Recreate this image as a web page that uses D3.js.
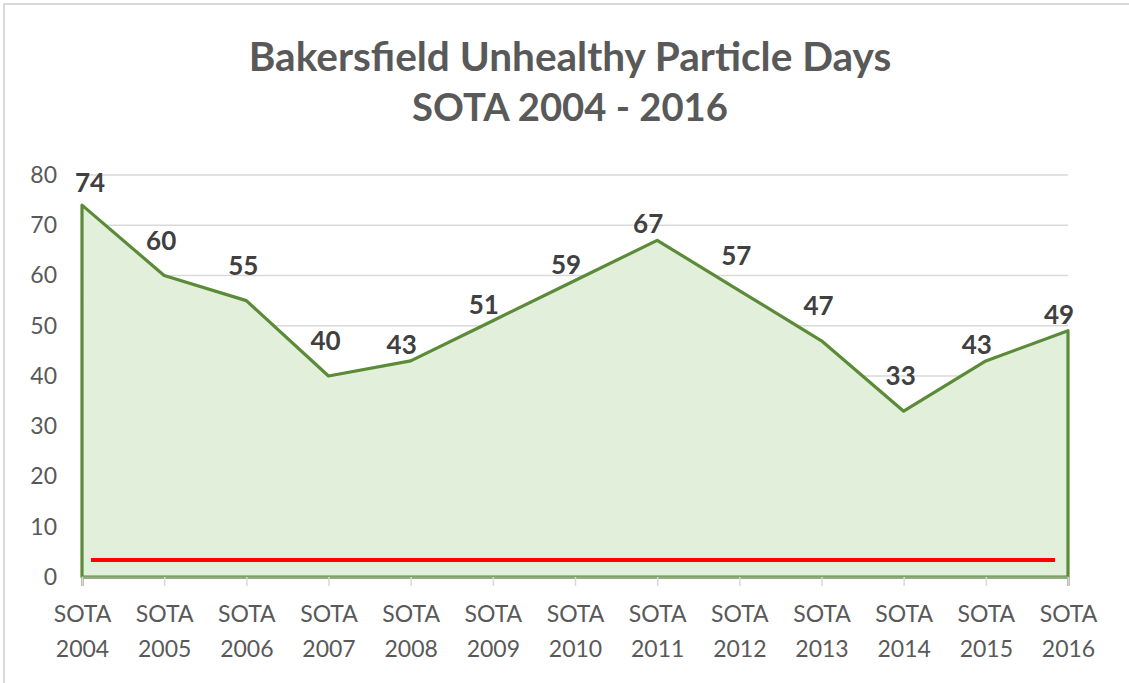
<!DOCTYPE html>
<html>
<head>
<meta charset="utf-8">
<script src="https://cdn.jsdelivr.net/npm/d3@7"></script>
<style>
  body { margin: 0; background: #fff; }
  svg { display: block; font-family: Lato, "Open Sans", sans-serif; }
</style>
</head>
<body>
<svg id="chart" width="1129" height="683"></svg>
<script>
// chart data
const years = ["2004", "2005", "2006", "2007", "2008", "2009", "2010",
               "2011", "2012", "2013", "2014", "2015", "2016"];
const days = [74, 60, 55, 40, 43, 51, 59, 67, 57, 47, 33, 43, 49];
const yTicks = [0, 10, 20, 30, 40, 50, 60, 70, 80];
const redLevel = 3.4;
const titleLines = ["Bakersfield Unhealthy Particle Days", "SOTA 2004 - 2016"];

const svg = d3.select("#chart");

// outer frame of the pasted chart
svg.append("rect")
  .attr("x", 4).attr("y", 4)
  .attr("width", 1140).attr("height", 700)
  .attr("fill", "none").attr("stroke", "#d9d9d9").attr("stroke-width", 2);

const x = d3.scalePoint().domain(years).range([82, 1068]);
const y = d3.scaleLinear().domain([0, 80]).range([577, 175]);

// gridlines
svg.append("g")
  .selectAll("line")
  .data(yTicks.filter(d => d > 0))
  .join("line")
  .attr("x1", x.range()[0]).attr("x2", x.range()[1])
  .attr("y1", d => y(d)).attr("y2", d => y(d))
  .attr("stroke", "#d9d9d9").attr("stroke-width", 1.3);

// y axis labels
const yAxis = svg.append("g")
  .attr("transform", "translate(57,0)")
  .call(d3.axisLeft(y).tickValues(yTicks).tickSize(0).tickPadding(0));
yAxis.select(".domain").remove();
yAxis.selectAll("text")
  .attr("font-size", 23).attr("fill", "#595959")
  .attr("font-family", "Lato, sans-serif");

// area
const pts = years.map((yr, i) => ({ yr, v: days[i] }));
const area = d3.area()
  .x(d => x(d.yr)).y0(y(0)).y1(d => y(d.v));
svg.append("path")
  .datum(pts)
  .attr("d", area)
  .attr("fill", "#e2efda")
  .attr("stroke", "#5b8b38").attr("stroke-width", 3.2)
  .attr("stroke-linejoin", "round");

// x axis
const xAxis = svg.append("g")
  .attr("transform", `translate(0,${y(0)})`)
  .call(d3.axisBottom(x).tickSize(9).tickPadding(8));
xAxis.select(".domain").attr("stroke", "#8fa97c").attr("stroke-width", 2.5);
xAxis.selectAll(".tick line").attr("stroke", "#d9d9d9").attr("stroke-width", 1.5);
xAxis.selectAll(".tick text").remove();
xAxis.selectAll(".tick").append("text")
  .attr("text-anchor", "middle")
  .attr("fill", "#595959")
  .attr("font-size", 23)
  .attr("font-family", "Lato, sans-serif")
  .each(function(d) {
    const t = d3.select(this);
    t.append("tspan").attr("x", 0).attr("y", 45).text("SOTA");
    t.append("tspan").attr("x", 0).attr("y", 80).text(d);
  });

// red reference line
svg.append("line")
  .attr("x1", x(years[0]) + 9).attr("x2", x(years[years.length - 1]) - 13)
  .attr("y1", y(redLevel)).attr("y2", y(redLevel))
  .attr("stroke", "#ff0000").attr("stroke-width", 4);

// data labels: rising points sit up-left, falling points sit higher
svg.append("g")
  .selectAll("text")
  .data(pts)
  .join("text")
  .attr("text-anchor", "middle")
  .attr("dominant-baseline", "central")
  .attr("font-size", 26).attr("font-weight", "bold")
  .attr("fill", "#404040")
  .attr("x", (d, i) => {
    if (i === 0) return x(d.yr) + 8;
    return x(d.yr) + (days[i - 1] < d.v ? -9 : -3);
  })
  .attr("y", (d, i) => {
    if (i === 0) return y(d.v) - 23;
    return y(d.v) - (days[i - 1] < d.v ? 17 : 36);
  })
  .text(d => d.v);

// title, each line fitted to the width seen in the reference
const titleWidths = [643, 316];
const titleY = [71, 121];
titleLines.forEach((line, i) => {
  const t = svg.append("text")
    .attr("text-anchor", "middle")
    .attr("fill", "#595959")
    .attr("font-weight", "bold")
    .attr("font-size", 34)
    .attr("x", 570).attr("y", titleY[i])
    .text(line);
  const w = t.node().getComputedTextLength();
  t.attr("font-size", 34 * titleWidths[i] / w);
});
</script>
</body>
</html>
